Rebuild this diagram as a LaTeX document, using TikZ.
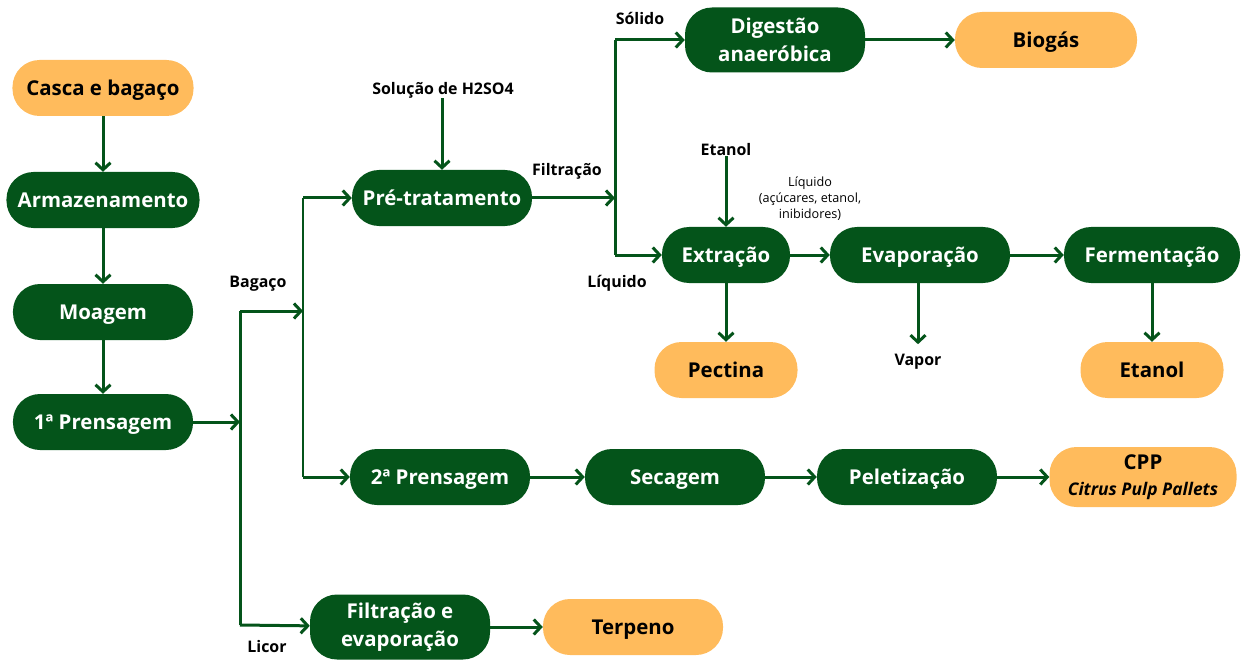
\documentclass[tikz,border=0pt]{standalone}
\usepackage{fontspec}
\setmainfont{Open Sans}
\usetikzlibrary{arrows.meta}
\definecolor{dg}{RGB}{4,84,26}
\definecolor{og}{RGB}{255,187,92}
\begin{document}
\begin{tikzpicture}[x=1bp,y=-1bp,
  box/.style={rounded corners=27bp, minimum height=56bp, inner sep=0pt, align=center,
    font=\bfseries\fontsize{20.5}{27.5}\selectfont},
  one/.style={text height=14.5bp, text depth=0bp},
  proc/.style={box, fill=dg, text=white},
  prod/.style={box, fill=og, text=black},
  ln/.style={draw=dg, line width=3bp},
  arr/.style={ln, -{Straight Barb[length=7bp,width=15bp,line width=3bp]}},
  lab/.style={font=\bfseries\fontsize{16}{19}\selectfont, inner sep=0pt},
  small/.style={font=\fontsize{12.7}{16}\selectfont, align=center, inner sep=0pt}]
\useasboundingbox (0,0) rectangle (1247,661);

% left column
\node[prod, one, minimum width=181bp] (casca) at (103,88) {Casca e bagaço};
\node[proc, one, minimum width=193bp] (arm) at (103,200) {Armazenamento};
\node[proc, one, minimum width=180bp] (moa) at (103,312) {Moagem};
\node[proc, one, minimum width=180bp] (p1) at (103,422) {1ª Prensagem};

\draw[arr] (casca) -- (arm);
\draw[arr] (arm) -- (moa);
\draw[arr] (moa) -- (p1);

% split after 1a prensagem
\coordinate (j1) at (240,422);
\coordinate (jb) at (240,311);
\coordinate (jl) at (240,625);
\coordinate (jb2) at (303,311);
\coordinate (jp) at (303,198);
\coordinate (jq) at (303,477);
\draw[arr] (p1) -- (j1);
\draw[ln] (jb) -- (jl);
\draw[arr] (jb) -- (jb2);
\draw[ln, line width=2.5bp] (jp) -- (jq);
\node[lab] (bag) at (258,284) {Bagaço};
\node[lab] (lic) at (267,647) {Licor};

% pre-tratamento branch
\node[proc, one, minimum width=180bp] (pre) at (442,198) {Pré-tratamento};
\node[lab] (h2) at (443,90) {Solução de H2SO4};
\draw[arr] (jp) -- (pre);
\draw[arr] (h2.south -| pre) -- (pre);
\node[lab] (filtl) at (567,171) {Filtração};
\coordinate (jf) at (615,198);
\coordinate (js) at (615,40);
\coordinate (jlq) at (615,255);
\draw[arr] (pre) -- (jf);
\draw[ln] (js) -- (jlq);
\node[lab] (sol) at (640,18) {Sólido};
\node[lab] (liq) at (617,283) {Líquido};

\node[proc, minimum width=180bp, minimum height=65bp] (dig) at (775,40) {Digestão\\anaeróbica};
\node[prod, one, minimum width=182bp] (bio) at (1046,40) {Biogás};
\draw[arr] (js) -- (dig);
\draw[arr] (dig) -- (bio);

\node[proc, one, minimum width=128bp] (ext) at (726,255) {Extração};
\node[lab] (etl) at (726,150) {Etanol};
\draw[arr] (jlq) -- (ext);
\draw[arr] (etl) -- (ext);
\node[small] (liqs) at (810,199) {Líquido\\(açúcares, etanol,\\inibidores)};
\node[proc, one, minimum width=180bp] (eva) at (920,255) {Evaporação};
\node[proc, one, minimum width=176bp] (fer) at (1152,255) {Fermentação};
\draw[arr] (ext) -- (eva);
\draw[arr] (eva) -- (fer);

\node[prod, one, minimum width=143bp] (pec) at (726,370) {Pectina};
\draw[arr] (ext) -- (pec);
\node[lab] (vap) at (918,362) {Vapor};
\draw[arr] (eva.south -| vap) -- ([yshift=10bp]vap.north);
\node[prod, one, minimum width=143bp] (etn) at (1152,370) {Etanol};
\draw[arr] (fer) -- (etn);

% 2a prensagem branch
\node[proc, one, minimum width=180bp] (p2) at (440,477) {2ª Prensagem};
\node[proc, one, minimum width=180bp] (sec) at (675,477) {Secagem};
\node[proc, one, minimum width=180bp] (pel) at (907,477) {Peletização};
\node[prod, minimum width=187bp, minimum height=60bp] (cpp) at (1143,477)
  {CPP\\[-1bp]{\itshape\fontsize{17.5}{20}\selectfont Citrus Pulp Pallets}};
\draw[arr] (jq) -- (p2);
\draw[arr] (p2) -- (sec);
\draw[arr] (sec) -- (pel);
\draw[arr] (pel) -- (cpp);

% licor branch
\node[proc, minimum width=180bp, minimum height=65bp] (fe) at (400,627) {Filtração e\\evaporação};
\node[prod, one, minimum width=180bp] (ter) at (633,627) {Terpeno};
\draw[arr] (jl) -- (fe);
\draw[arr] (fe) -- (ter);
\end{tikzpicture}
\end{document}
